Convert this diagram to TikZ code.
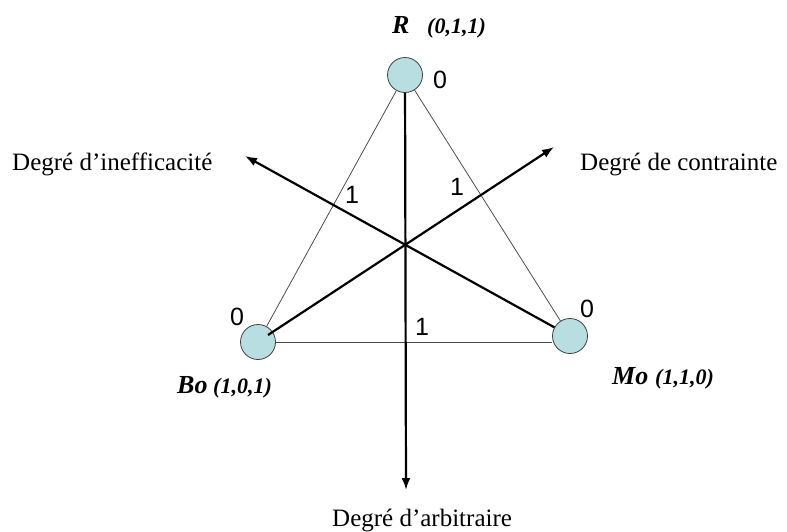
\documentclass[tikz,border=0pt]{standalone}
\usepackage{fontspec}
\setmainfont{Liberation Serif}
\newfontfamily\arialfont{Liberation Sans}
\usetikzlibrary{arrows.meta, positioning}
\definecolor{bulle}{RGB}{184,222,226}

\begin{document}
\begin{tikzpicture}[x=1pt, y=-1pt, inner sep=0pt,
        pole/.style={circle, draw=black!75, fill=bulle, minimum size=35pt, line width=0.8pt},
        side/.style={black!70, line width=0.8pt},
        axis/.style={line width=2.2pt, -{Latex[length=12pt, width=9pt]}},
        deg/.style={anchor=base west, font=\fontsize{25}{30}\selectfont},
        val/.style={font=\arialfont\fontsize{25}{30}\selectfont},
        nom/.style={anchor=base west, font=\bfseries\itshape\fontsize{26}{30}\selectfont},
        vec/.style={anchor=base west, font=\bfseries\itshape\fontsize{22}{26}\selectfont}]
        \useasboundingbox (0,0) rectangle (787,531);

        % the three poles
        \node[pole] (R)  at (405,75)  {};
        \node[pole] (Bo) at (258,342) {};
        \node[pole] (Mo) at (570,336) {};

        \node[nom] (nR)  at (392,33)  {R};
        \node[vec] (vR)  at (427,33)  {(0,1,1)};
        \node[nom] (nBo) at (177,393) {Bo};
        \node[vec] (vBo) at (213,393) {(1,0,1)};
        \node[nom] (nMo) at (612,384) {Mo};
        \node[vec] (vMo) at (655,384) {(1,1,0)};

        % triangle
        \draw[side] (R) -- (Bo);
        \draw[side] (R) -- (Mo);
        \draw[side] (Bo.east) -- (Bo.east -| Mo.west);

        % axes
        \coordinate (ine)   at (245,156);
        \coordinate (con)   at (554,147);
        \coordinate (arb)   at (406,490);
        \coordinate (bo-in) at (268,335);
        \draw[axis] (R) -- (arb);
        \draw[axis] (Mo) -- (ine);
        \draw[axis] (bo-in) -- (con);

        \node[deg] (dIne) at (12,170)  {Degré d’inefficacité};
        \node[deg] (dCon) at (580,170) {Degré de contrainte};
        \node[deg] (dArb) at (332,526) {Degré d’arbitraire};

        % graduations
        \node[val] (zR)  at (440,80)  {0};
        \node[val] (zBo) at (237,317) {0};
        \node[val] (zMo) at (587,309) {0};
        \node[val] (uIne) at (352,195) {1};
        \node[val] (uCon) at (457,187) {1};
        \node[val] (uArb) at (422,327) {1};
\end{tikzpicture}
\end{document}
